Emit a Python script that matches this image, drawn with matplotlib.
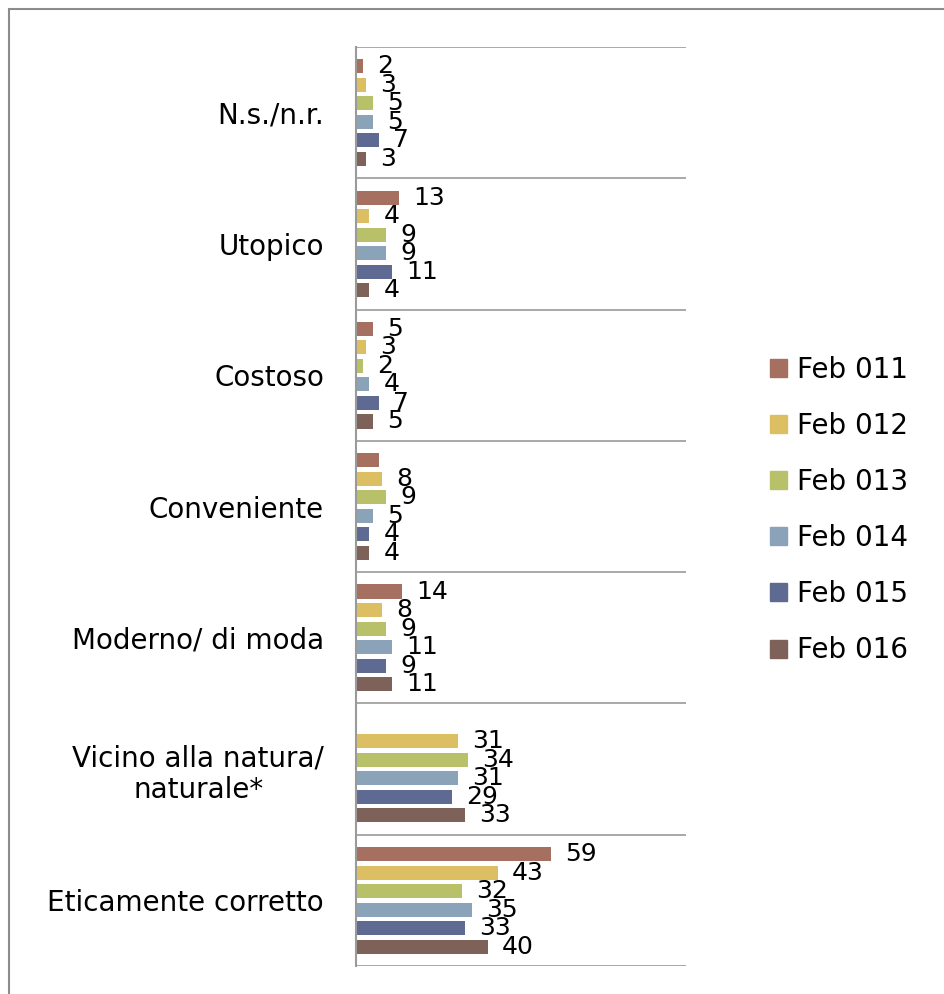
import matplotlib
matplotlib.use("Agg")
import matplotlib.pyplot as plt
import numpy as np
from matplotlib.patches import Rectangle

categories = ["N.s./n.r.", "Utopico", "Costoso", "Conveniente", "Moderno/ di moda",
              "Vicino alla natura/\nnaturale*", "Eticamente corretto"]
series = ["Feb 011", "Feb 012", "Feb 013", "Feb 014", "Feb 015", "Feb 016"]
feb011 = [2, 13, 5, 7, 14, np.nan, 59]
feb012 = [3, 4, 3, 8, 8, 31, 43]
feb013 = [5, 9, 2, 9, 9, 34, 32]
feb014 = [5, 9, 4, 5, 11, 31, 35]
feb015 = [7, 11, 7, 4, 9, 29, 33]
feb016 = [3, 4, 5, 4, 11, 33, 40]
# labels shown (Conveniente Feb 011 has no visible label)
show_label011 = [True, True, True, False, True, False, True]
colors = ["#A5705F", "#DDBF63", "#B8C06A", "#8BA3B8", "#5F6A92", "#7E625A"]

data = [feb011, feb012, feb013, feb014, feb015, feb016]

fig = plt.figure(figsize=(9.44, 9.94), dpi=100)
fig.patches.append(Rectangle((9/944, -0.1), 1.2, 1 - 9/994 + 0.1, transform=fig.transFigure,
                             fill=False, edgecolor="#8c8c8c", linewidth=1.5))
ax = fig.add_axes([356/944, 1 - 966/994, 330/944, (966 - 47)/994])

n = len(categories)
slot = 0.141
bh = 0.107
font = "DejaVu Sans"
for j, (vals, col) in enumerate(zip(data, colors)):
    for i, v in enumerate(vals):
        if np.isnan(v):
            continue
        y = i + 0.5 - 2.5 * slot + j * slot
        ax.barh(y, v, height=bh, color=col, edgecolor="none")
        if j == 0 and not show_label011[i]:
            continue
        ax.text(v + 4.3, y, f"{int(v)}", va="center", ha="left", fontsize=18,
                family=font, color="black")

ax.set_xlim(0, 100)
ax.set_ylim(n, 0)
ax.set_yticks(np.arange(n) + 0.5)
ax.set_yticklabels(categories, fontsize=20, family=font, multialignment="center")
ax.tick_params(axis="y", length=0, pad=23)
ax.set_xticks([])
for b in range(n + 1):
    ax.axhline(b, color="#9a9a9a", linewidth=1.2)
for s in ["top", "right", "bottom"]:
    ax.spines[s].set_visible(False)
ax.spines["left"].set_color("#9a9a9a")
ax.spines["left"].set_linewidth(1.5)

handles = [Rectangle((0, 0), 1, 1, color=c) for c in colors]
leg = fig.legend(handles, series, loc="upper left", bbox_to_anchor=(745/944, 1 - 331/994),
                 frameon=False, handlelength=0.62, handleheight=0.62,
                 handletextpad=0.36, labelspacing=1.01, prop={"family": font, "size": 20})

fig.savefig("out.png", dpi=100)
